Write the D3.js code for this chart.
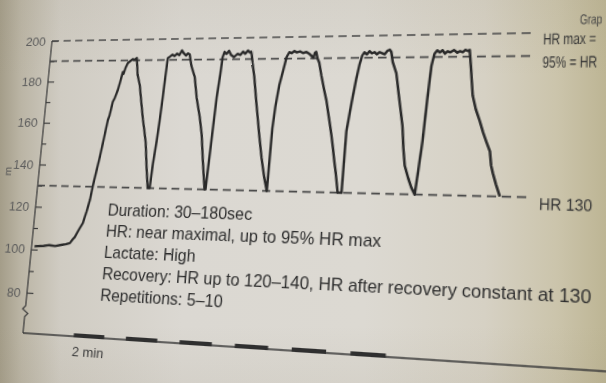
<!DOCTYPE html>
<html><head><meta charset="utf-8">
<script src="https://cdn.jsdelivr.net/npm/d3@7"></script>
<style>
html,body{margin:0;padding:0;width:606px;height:383px;overflow:hidden;background:#d8d5ce;}
#bg{position:absolute;left:0;top:0;}
#chart{position:absolute;left:0;top:0;transform-origin:0 0;overflow:hidden;}
text{font-family:"Liberation Sans",Arial,Helvetica,sans-serif;}
</style></head><body>
<svg id="bg" width="606" height="383"></svg>
<svg id="chart" width="700" height="420"></svg>
<script>
// ---------------- data ----------------
const hrTime = [
  0.2,0.8,1.2,1.6,2.0,2.3,2.57,2.75,2.87,3.1,3.32,3.5,3.65,3.76,3.9,4.05,4.2,4.37,4.45,4.59,4.7,4.86,4.95,5.09,5.15,5.25,5.37,5.5,5.68,5.8,5.95,
  6.1,6.3,6.5,6.7,6.85,7.02,7.2,7.39,7.52,
  7.6,7.73,7.8,7.89,7.95,8.01,8.13,8.3,8.45,8.6,8.75,8.9,9.05,9.2,9.3,9.43,
  9.6,9.87,10.1,10.39,10.6,10.8,11.04,11.1,
  11.2,11.38,11.5,11.57,11.67,11.8,11.95,12.1,12.3,12.5,12.7,12.85,13.0,13.15,13.3,13.38,
  13.5,13.66,13.9,14.05,14.22,14.45,14.7,14.91,
  15.0,15.1,15.26,15.45,15.6,15.75,15.9,16.05,16.2,16.4,16.6,16.8,17.0,17.15,17.25,17.32,17.4,
  17.5,17.62,17.8,18.0,18.18,18.4,18.6,18.75,18.88,19.0,19.16,19.39,
  19.48,19.7,19.9,20.05,20.18,20.3,20.45,20.6,20.75,20.9,21.05,21.2,21.35,21.5,21.65,21.8,21.89,
  22.0,22.24,22.45,22.6,22.74,22.85,22.97,23.2,23.4,23.61,
  23.75,23.93,24.1,24.25,24.4,24.55,24.7,24.85,25.0,25.15,25.3,25.5,25.7,25.85,26.0,26.15,26.3,26.39,
  26.5,26.65,26.85,27.09,27.3,27.5,27.71,27.8,27.91,28.1,28.33
];
const hrValue = [
  101.5,101.8,102.3,102.0,102.6,103.0,103.6,105.5,106.5,110,113.1,118.5,123.8,130.4,137,144,152,161.5,163.5,170.1,172,175.8,179,184.4,183.5,186.5,188.7,189.5,190.6,190.2,191.1,
  183,178.2,170,162,157,150.8,140,130,130,
  141,152.3,160,172.4,182,190.9,191.5,192.5,191.8,193,192.2,194.5,193,192,193,192.5,
  187,181.8,172,163.1,155,143,130,130,
  145,172.4,183,191,193.5,192.5,194,192,191,192.5,192,193.5,192.5,194,193,193.5,
  188,182,170,163,155,145,136,130,
  158,168,178,185,190.8,193,192.5,193.5,192.8,193.3,192.5,193,192,191,190.2,192.5,193,
  190,188,182,176,171,163,155.5,149,143,138,130,130,
  157,170,180.5,187,191,192.5,191.5,193,192,192.5,191.5,192.5,192,191.5,193,193.5,192.5,
  188,183,173,166,159.6,150,142.4,137,133,130,
  140,153.5,172,186,191.5,193,192,193,191.5,192.5,192,193,191.8,192.5,192,193,192.5,193,
  185,173,167,162,157,153,149,143,139.7,135,130
];
const refLevels = [200, 190, 130];
const refLabels = ["HR max =", "95% = HR", "HR 130"];
const yMajorTicks = [80, 100, 120, 140, 160, 180, 200];
const yMinorTicks = [90, 110, 130, 150, 170, 190];
const timeMarkStart = [3.4, 6.8, 10.2, 13.6, 17.0, 20.4];
const timeMarkLength = 2;
const timeMarkLabel = "2 min";
const notes = [
  "Duration: 30\u2013180sec",
  "HR: near maximal, up to 95% HR max",
  "Lactate: High",
  "Recovery: HR up to 120\u2013140, HR after recovery constant at 130",
  "Repetitions: 5\u201310"
];
const captionText = "Grap";
const yTitle = "m";

// ---------------- background (paper) ----------------
const bg = d3.select("#bg");
const defs = bg.append("defs");
const g1 = defs.append("linearGradient").attr("id","paper").attr("x1",0).attr("x2",1).attr("y1",0).attr("y2",0);
[[0,"#a49d89"],[0.035,"#bbb5a5"],[0.1,"#d0ccc3"],[0.3,"#dbd8d2"],[0.6,"#dcd9d2"],[0.8,"#d6d1c4"],[0.92,"#cbc4ab"],[1,"#bdb594"]]
  .forEach(([o,c])=>g1.append("stop").attr("offset",o).attr("stop-color",c));
const g2 = defs.append("linearGradient").attr("id","shade").attr("x1",0).attr("x2",0).attr("y1",0).attr("y2",1);
[[0,"#8a8068",0.08],[0.2,"#8a8068",0.0],[0.85,"#8a8068",0.0],[1,"#8a8068",0.08]]
  .forEach(([o,c,a])=>g2.append("stop").attr("offset",o).attr("stop-color",c).attr("stop-opacity",a));
bg.append("rect").attr("width",606).attr("height",383).attr("fill","url(#paper)");
bg.append("rect").attr("width",606).attr("height",383).attr("fill","url(#shade)");

// ---------------- chart (flat frame) ----------------
const svg = d3.select("#chart");
const x = d3.scaleLinear().domain([0, 30]).range([40, 520]);
const y = d3.scaleLinear().domain([80, 200]).range([300, 40]);
const axisY = 340;
const ink = "#2a2a2a";

// y axis spine with break
const x0 = x(0);
const spine = [[x0, y(200)], [x0, y(74)], [x0 - 3, y(72.5)], [x0 + 3, y(70.5)], [x0, y(69)], [x0, axisY]];
svg.append("path").attr("d", d3.line()(spine)).attr("fill","none").attr("stroke","#3a3a3a").attr("stroke-width",1.3);

// major ticks
const gy = svg.append("g").attr("transform",`translate(${x0},0)`)
  .call(d3.axisLeft(y).tickValues(yMajorTicks).tickSizeInner(-7).tickSizeOuter(0).tickPadding(7));
gy.select(".domain").remove();
gy.selectAll("line").attr("stroke","#3a3a3a").attr("stroke-width",1.2);
gy.selectAll("text").attr("fill","#5a5a5a").style("font-size","13.5px")
  .style("font-family","'Liberation Sans',Arial,sans-serif");
// minor ticks
const gm = svg.append("g").attr("transform",`translate(${x0},0)`)
  .call(d3.axisLeft(y).tickValues(yMinorTicks).tickSizeInner(-5).tickSizeOuter(0).tickFormat(""));
gm.select(".domain").remove();
gm.selectAll("line").attr("stroke","#3a3a3a").attr("stroke-width",1.2);

// y title fragment
svg.append("text").attr("transform",`translate(9,${y(136.5)}) rotate(-90)`)
  .attr("text-anchor","middle").attr("fill","#555").style("font-size","11px").text(yTitle);

// x axis with time marks
svg.append("line").attr("x1",x0).attr("x2",x(40)).attr("y1",axisY).attr("y2",axisY)
  .attr("stroke","#3a3a3a").attr("stroke-width",1.3);
svg.selectAll("line.mark").data(timeMarkStart).join("line").attr("class","mark")
  .attr("x1",d=>x(d)).attr("x2",d=>x(d+timeMarkLength))
  .attr("y1",axisY-1).attr("y2",axisY-1).attr("stroke","#2f2f2f").attr("stroke-width",4);
svg.append("text").attr("x",x(timeMarkStart[0]+timeMarkLength/2)).attr("y",axisY+19)
  .attr("text-anchor","middle").attr("fill","#3a3a3a").style("font-size","13.5px").text(timeMarkLabel);

// reference dashed lines + labels (narrowed glyphs, as on the curved page edge)
svg.selectAll("line.ref").data(refLevels).join("line").attr("class","ref")
  .attr("x1",x0).attr("x2",x(30)).attr("y1",d=>y(d)).attr("y2",d=>y(d))
  .attr("stroke","#4a4a4a").attr("stroke-width",1.6).attr("stroke-dasharray","8,5");
const labelScale = [0.68, 0.68, 0.88];
svg.selectAll("text.ref").data(refLevels).join("text").attr("class","ref")
  .attr("transform",(d,i)=>`translate(${x(30)+7},${y(d)+11}) scale(${labelScale[i]},1)`)
  .attr("fill","#333").style("font-size","15px")
  .text((d,i)=>refLabels[i]);
svg.append("text").attr("transform",`translate(${x(32.4)},${y(203.5)}) scale(0.66,1)`)
  .attr("fill","#444").style("font-size","13px").text(captionText);

// heart-rate curve
const pts = hrTime.map((t,i)=>({t, v: hrValue[i]}));
svg.append("path").datum(pts)
  .attr("d", d3.line().x(d=>x(d.t)).y(d=>y(d.v)))
  .attr("fill","none").attr("stroke",ink).attr("stroke-width",2.4).attr("stroke-linejoin","round");

// notes
svg.selectAll("text.note").data(notes).join("text").attr("class","note")
  .attr("x",x(4.9)).attr("y",(d,i)=>219.6 + i*21)
  .attr("fill","#2e2e2e").style("font-size","16px").text(d=>d);

// ---------------- photo perspective (homography flat -> screen) ----------------
function homography(src, dst){
  const A=[], B=[];
  for(let i=0;i<4;i++){
    const [sx,sy]=src[i], [dx,dy]=dst[i];
    A.push([sx,sy,1,0,0,0,-sx*dx,-sy*dx]); B.push(dx);
    A.push([0,0,0,sx,sy,1,-sx*dy,-sy*dy]); B.push(dy);
  }
  const n=8;
  for(let c=0;c<n;c++){
    let p=c; for(let r=c+1;r<n;r++) if(Math.abs(A[r][c])>Math.abs(A[p][c])) p=r;
    [A[c],A[p]]=[A[p],A[c]]; [B[c],B[p]]=[B[p],B[c]];
    for(let r=0;r<n;r++){ if(r===c) continue; const f=A[r][c]/A[c][c];
      for(let k=c;k<n;k++) A[r][k]-=f*A[c][k]; B[r]-=f*B[c]; }
  }
  return B.map((b,i)=>b/A[i][i]);
}
const flatPts = [[x(0), y(200)], [x(29.875), y(200)], [x(0), axisY], [x(29.875), axisY]];
const photoPts = [[52,41],[533,33],[23,333],[524,366]];
const h = homography(flatPts, photoPts);
d3.select("#chart").style("transform",
  `matrix3d(${h[0]},${h[3]},0,${h[6]},${h[1]},${h[4]},0,${h[7]},0,0,1,0,${h[2]},${h[5]},0,1)`);
</script>
</body></html>
